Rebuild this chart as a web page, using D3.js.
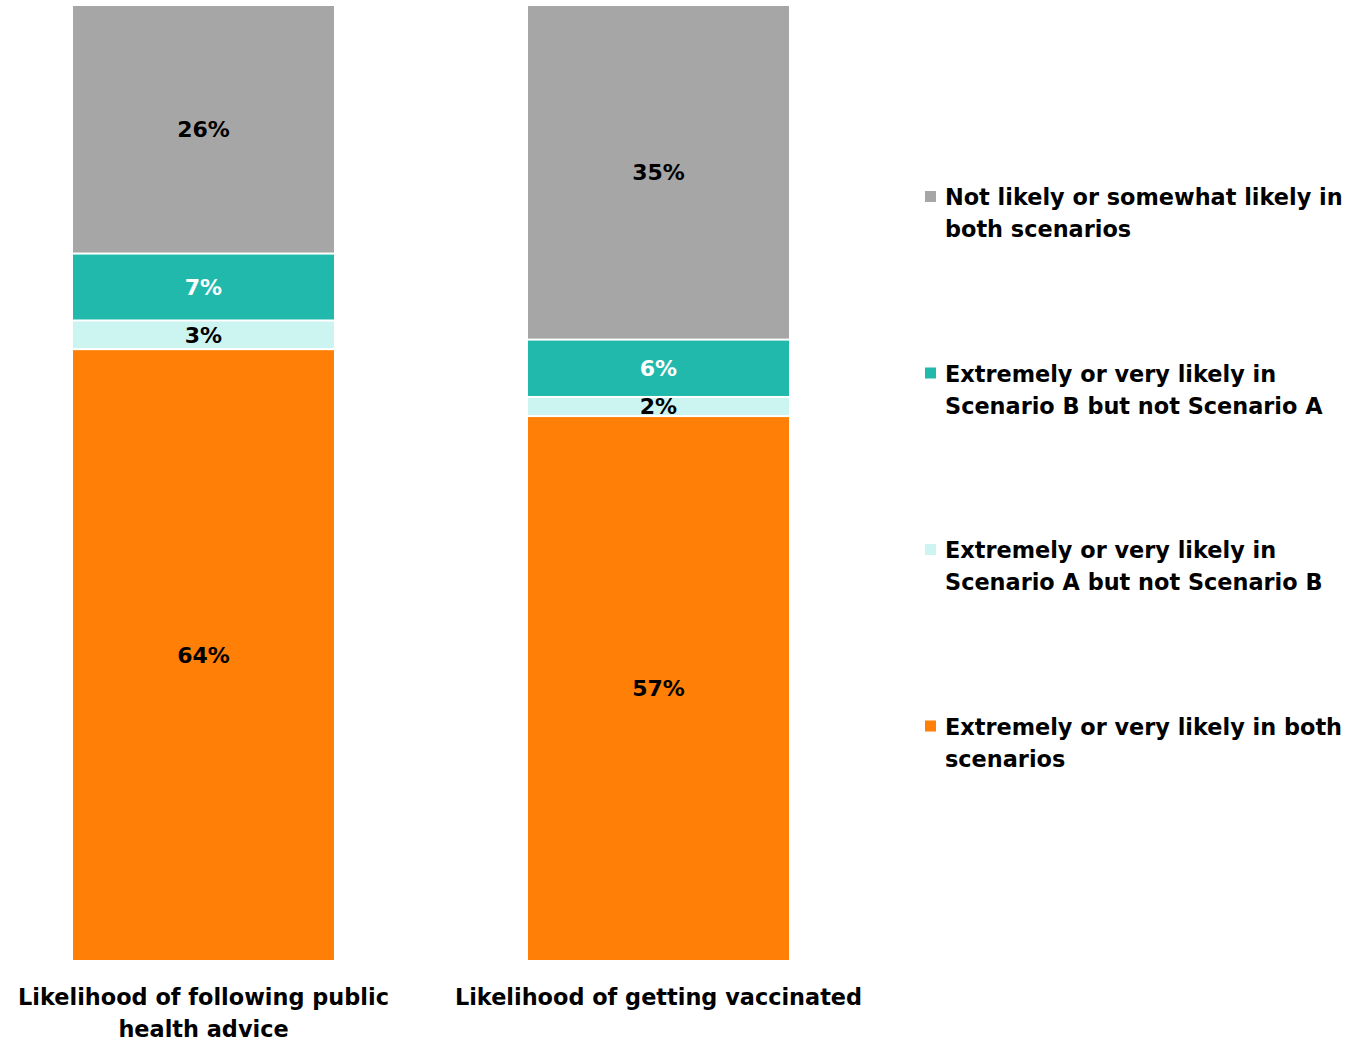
<!DOCTYPE html>
<html>
<head>
<meta charset="utf-8">
<script src="https://cdn.jsdelivr.net/npm/d3@7"></script>
<style>
  html, body { margin: 0; padding: 0; background: #fff; }
  svg { display: block; }
  text { font-family: "DejaVu Sans", sans-serif; font-weight: bold; }
</style>
</head>
<body>
<svg id="chart" width="1370" height="1042"></svg>
<script>
// Categories along the x axis (wrapped onto lines)
const categories = ["Likelihood of following public health advice", "Likelihood of getting vaccinated"];
const categoryLines = [["Likelihood of following public", "health advice"], ["Likelihood of getting vaccinated"]];

// Series, bottom to top in each stack
const seriesNames = [
  "Extremely or very likely in both scenarios",
  "Extremely or very likely in Scenario A but not Scenario B",
  "Extremely or very likely in Scenario B but not Scenario A",
  "Not likely or somewhat likely in both scenarios"
];
const bothLikely = [64, 57];
const onlyA = [3, 2];
const onlyB = [7, 6];
const notLikely = [26, 35];

const seriesColors = ["#FF7F07", "#CCF4F0", "#20B9AC", "#A6A6A6"];
const labelColors = ["#000", "#000", "#fff", "#000"];

// Legend entries, top to bottom, with manual line breaks
const legendLines = [
  ["Not likely or somewhat likely in", "both scenarios"],
  ["Extremely or very likely in", "Scenario B but not Scenario A"],
  ["Extremely or very likely in", "Scenario A but not Scenario B"],
  ["Extremely or very likely in both", "scenarios"]
];
const legendColors = ["#A6A6A6", "#20B9AC", "#CCF4F0", "#FF7F07"];

const values = [bothLikely, onlyA, onlyB, notLikely];
const rows = categories.map((c, i) => {
  const r = { category: c };
  seriesNames.forEach((s, j) => { r[s] = values[j][i]; });
  return r;
});
const stacked = d3.stack().keys(seriesNames)(rows);

const svg = d3.select("#chart");
const xb = d3.scaleBand().domain(categories).range([73, 789])
  .paddingInner(194 / (194 + 261)).paddingOuter(0);
const y = d3.scaleLinear().domain([0, 100]).range([961, 5]);

const valueSize = 22;
const textSize = 22.4;

const layer = svg.append("g").selectAll("g")
  .data(stacked)
  .join("g")
  .attr("fill", (d, i) => seriesColors[i]);

// Segments with a thin white gap between neighbours
layer.selectAll("rect")
  .data(d => d)
  .join("rect")
  .attr("x", d => xb(d.data.category))
  .attr("width", xb.bandwidth())
  .attr("y", d => y(d[1]) + 1)
  .attr("height", d => y(d[0]) - y(d[1]) - 2);

// Value labels centred in each segment
stacked.forEach((s, i) => {
  svg.append("g").selectAll("text")
    .data(s)
    .join("text")
    .attr("x", d => xb(d.data.category) + xb.bandwidth() / 2)
    .attr("y", d => (y(d[0]) + y(d[1])) / 2)
    .attr("dy", "0.36em")
    .attr("text-anchor", "middle")
    .attr("font-size", valueSize)
    .attr("fill", labelColors[i])
    .text(d => (d[1] - d[0]) + "%");
});

// Category axis labels
const xAxis = svg.append("g");
categories.forEach((c, i) => {
  const cx = xb(c) + xb.bandwidth() / 2;
  const t = xAxis.append("text")
    .attr("text-anchor", "middle")
    .attr("font-size", textSize)
    .attr("fill", "#000");
  categoryLines[i].forEach((line, k) => {
    t.append("tspan")
      .attr("x", cx)
      .attr("y", 997 + k * 32)
      .attr("dy", "0.36em")
      .text(line);
  });
});

// Legend
const legend = svg.append("g");
legendLines.forEach((lines, i) => {
  const top = 197 + i * 176.5;
  legend.append("rect")
    .attr("x", 925).attr("y", top - 6)
    .attr("width", 11).attr("height", 11)
    .attr("fill", legendColors[i]);
  const t = legend.append("text")
    .attr("font-size", textSize)
    .attr("fill", "#000");
  lines.forEach((line, k) => {
    t.append("tspan")
      .attr("x", 945)
      .attr("y", top + k * 32)
      .attr("dy", "0.36em")
      .text(line);
  });
});
</script>
</body>
</html>
